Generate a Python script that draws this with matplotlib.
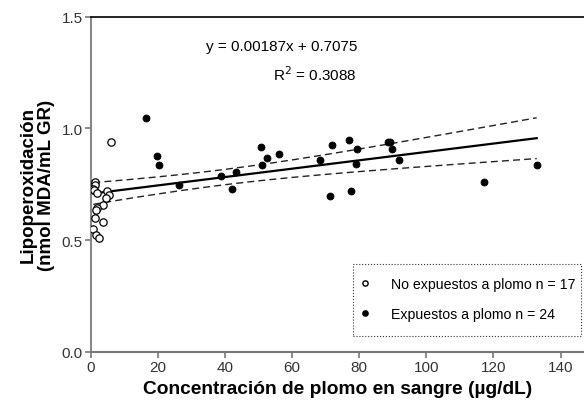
import numpy as np
import matplotlib
matplotlib.use("Agg")
import matplotlib.pyplot as plt
from matplotlib.lines import Line2D
from matplotlib.patches import Rectangle

plt.rcParams["font.family"] = ["Liberation Sans", "DejaVu Sans"]

# Data
x_no = [1.1, 1.3, 0.7, 1.0, 1.8, 4.8, 5.3, 4.5, 3.5, 1.8, 1.5, 1.1, 3.6, 0.7, 1.4, 2.5, 5.9]
y_no = [0.760, 0.745, 0.730, 0.725, 0.710, 0.719, 0.701, 0.690, 0.656, 0.646, 0.635, 0.598, 0.579, 0.549, 0.522, 0.508, 0.939]

x_exp = [16.3, 19.8, 20.3, 26.1, 38.8, 42.1, 43.2, 50.6, 51.0, 52.4, 56.2, 68.3,
         71.3, 71.8, 77.0, 77.4, 79.2, 79.1, 88.5, 89.3, 89.8, 91.9, 117.2, 132.9]
y_exp = [1.045, 0.876, 0.838, 0.747, 0.787, 0.728, 0.807, 0.917, 0.838, 0.868, 0.887, 0.859,
         0.698, 0.925, 0.948, 0.719, 0.906, 0.841, 0.937, 0.937, 0.906, 0.857, 0.759, 0.838]

slope = 0.00187
intercept = 0.7075
eq_line1 = "y = 0.00187x + 0.7075"
eq_line2 = "R$^2$ = 0.3088"
legend_labels = ["No expuestos a plomo n = 17", "Expuestos a plomo n = 24"]
xticks = [0, 20, 40, 60, 80, 100, 120, 140]
yticks = [0.0, 0.5, 1.0, 1.5]

W, H = 584, 406
fig = plt.figure(figsize=(W / 100, H / 100), dpi=100)
ax = fig.add_axes([91 / W, 53 / H, 1 - 91 / W, (353 - 17.5) / H])

# regression line and 95% confidence bands
xa = np.array(x_no + x_exp)
ya = np.array(y_no + y_exp)
n = len(xa)
xbar = xa.mean()
sxx = ((xa - xbar) ** 2).sum()
resid = ya - (slope * xa + intercept)
s = np.sqrt((resid ** 2).sum() / (n - 2))
tval = 2.0227
xs = np.linspace(xa.min(), xa.max(), 200)
yfit = slope * xs + intercept
hw = tval * s * np.sqrt(1 / n + (xs - xbar) ** 2 / sxx)
ax.plot(xs, yfit, color="black", lw=1.6, zorder=3)
ax.plot(xs, yfit + hw, color="#222222", lw=1.0, ls=(0, (5, 3)), zorder=3)
ax.plot(xs, yfit - hw, color="#222222", lw=1.0, ls=(0, (5, 3)), zorder=3)

ax.scatter(x_no, y_no, s=28, facecolors="white", edgecolors="black", linewidths=0.9, zorder=4)
ax.scatter(x_exp, y_exp, s=26, facecolors="black", edgecolors="black", linewidths=0.5, zorder=4)

ax.set_xlim(0, 147)
ax.set_ylim(0, 1.5)
ax.set_xticks(xticks)
ax.set_yticks(yticks)
ax.set_yticklabels([f"{v:.1f}" for v in yticks])

ax.spines["right"].set_visible(False)
ax.spines["left"].set_color("#888888")
ax.spines["bottom"].set_color("#777777")
ax.spines["left"].set_linewidth(1.5)
ax.spines["bottom"].set_linewidth(1.5)
ax.spines["top"].set_color("black")
ax.spines["top"].set_linewidth(1.2)
ax.tick_params(axis="both", direction="out", length=4, width=1.2, color="#777777",
               labelsize=11, labelcolor="#333333", pad=2)

ax.set_xlabel("Concentración de plomo en sangre (\u00b5g/dL)", fontsize=13.8, fontweight="bold", labelpad=4)
ax.set_ylabel("Lipoperoxidación\n(nmol MDA/mL GR)", fontsize=13.5, fontweight="bold", labelpad=5,
              linespacing=1.05)

ident = matplotlib.transforms.IdentityTransform()
ax.text(357, H - 47, eq_line1, transform=ident, fontsize=11, ha="right", va="center")
ax.text(357, H - 75, eq_line2, transform=ident, fontsize=11, ha="right", va="center")

handles = [
    Line2D([], [], marker="o", ls="none", markerfacecolor="white", markeredgecolor="black", markersize=3.8),
    Line2D([], [], marker="o", ls="none", markerfacecolor="black", markeredgecolor="black", markersize=3.8),
]
leg = ax.legend(handles, legend_labels, loc="upper left",
                bbox_to_anchor=(361, H - 278), bbox_transform=ident,
                fontsize=10.2, frameon=False, borderpad=0, labelspacing=1.1,
                handletextpad=1.5, handlelength=0.6, borderaxespad=0)
fig.patches.append(Rectangle((353 / W, (H - 337) / H), (581 - 353) / W, (337 - 265) / H,
                             transform=fig.transFigure, fill=False, edgecolor="#333333",
                             linestyle=":", linewidth=0.8))

fig.savefig("out.png", dpi=100)
